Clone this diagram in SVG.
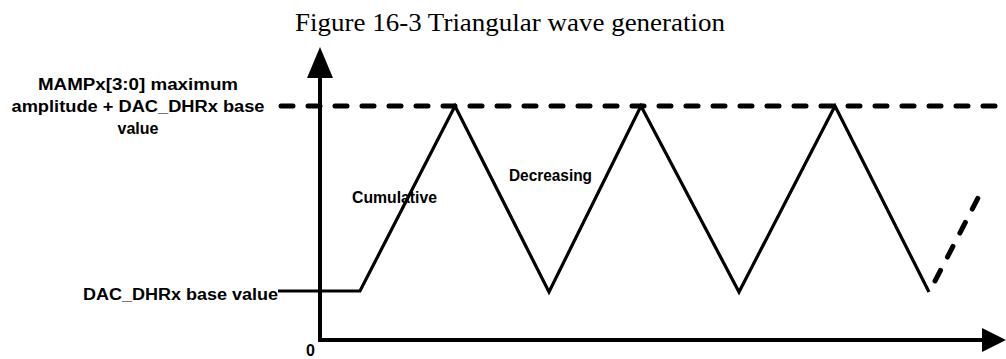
<svg xmlns="http://www.w3.org/2000/svg" width="1006" height="359" viewBox="0 0 1006 359">
<defs>
<style>
.lbl{font-family:"Liberation Sans",Arial,sans-serif;font-weight:bold;font-size:16px;fill:#000}
.title{font-family:"Liberation Serif","Times New Roman",serif;font-size:25px;fill:#000}
.axis{stroke:#000;stroke-width:4;fill:none}
.wave{stroke:#000;stroke-width:3.2;fill:none;stroke-linejoin:miter}
.dash{stroke:#000;stroke-width:5;fill:none;stroke-linecap:round;stroke-dasharray:12 15}
</style>
</defs>
<rect width="1006" height="359" fill="#fff"/>
<text class="title" x="295" y="31" textLength="430" lengthAdjust="spacingAndGlyphs">Figure 16-3 Triangular wave generation</text>
<g id="axes">
<line class="axis" x1="320" y1="75" x2="320" y2="342"/>
<polygon points="320,47 307,78 333,78" fill="#000"/>
<line class="axis" x1="318" y1="340" x2="985" y2="340"/>
<polygon points="1006,340 982,328 982,352" fill="#000"/>
</g>
<g id="max-line">
<line class="dash" x1="281" y1="106" x2="1000" y2="106"/>
</g>
<g id="connectors">
<polyline class="wave" points="278,291 360,291 455,106 549,292 641,106 739,292 835,106 929,292"/>
<line class="dash" x1="935" y1="281" x2="978" y2="198" stroke-dasharray="14 12"/>
</g>
<g id="label-max">
<text class="lbl" x="138" y="90" text-anchor="middle" textLength="200" lengthAdjust="spacingAndGlyphs">MAMPx[3:0] maximum</text>
<text class="lbl" x="138" y="112" text-anchor="middle" textLength="253" lengthAdjust="spacingAndGlyphs">amplitude + DAC_DHRx base</text>
<text class="lbl" x="138" y="134" text-anchor="middle">value</text>
</g>
<g id="label-base">
<text class="lbl" x="83" y="300" textLength="195" lengthAdjust="spacingAndGlyphs">DAC_DHRx base value</text>
</g>
<g id="label-zero">
<text class="lbl" x="306" y="356">0</text>
</g>
<g id="label-cum">
<text class="lbl" x="352" y="203" font-size="14" textLength="85" lengthAdjust="spacingAndGlyphs">Cumulative</text>
</g>
<g id="label-dec">
<text class="lbl" x="509" y="181" font-size="14" textLength="83" lengthAdjust="spacingAndGlyphs">Decreasing</text>
</g>
</svg>
